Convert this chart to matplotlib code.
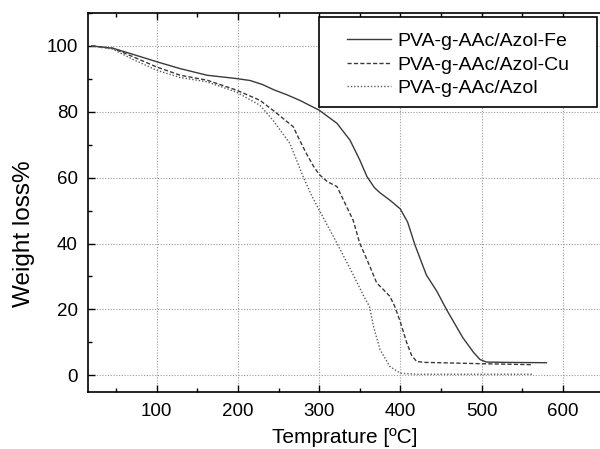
import matplotlib
matplotlib.use("Agg")
import matplotlib.pyplot as plt
from matplotlib.ticker import MultipleLocator
from matplotlib.patches import Rectangle

plt.rcParams['font.family'] = ['Liberation Sans', 'DejaVu Sans']

fe_T = [20, 46, 70, 100, 129, 162, 198, 215, 230, 245, 260, 276, 300, 322, 338, 350, 359, 368, 375, 388, 400, 409, 418, 432, 445, 457, 477, 490, 498, 506, 530, 580]
fe_W = [100, 99.3, 97.5, 95.2, 93.1, 91.1, 90.1, 89.5, 88.3, 86.6, 85.2, 83.5, 80.5, 76.5, 71.4, 65.4, 60.3, 57.0, 55.4, 53.0, 50.5, 46.5, 39.6, 30.5, 25.5, 19.9, 11.4, 7.0, 4.8, 4.0, 3.9, 3.8]

cu_T = [20, 46, 70, 100, 129, 162, 198, 227, 243, 268, 276, 285, 293, 300, 310, 322, 330, 342, 350, 360, 371, 380, 387, 393, 400, 408, 414, 420, 430, 449, 500, 563]
cu_W = [100, 99.3, 96.8, 93.6, 91.1, 89.6, 86.6, 83.5, 80.5, 75.5, 71.4, 67.0, 63.5, 61.0, 58.8, 57.3, 53.2, 47.0, 40.1, 34.5, 28.0, 25.8, 24.0, 21.0, 16.2, 9.8, 6.0, 4.2, 3.9, 3.8, 3.5, 3.2]

az_T = [20, 46, 70, 100, 129, 162, 198, 227, 243, 264, 276, 280, 290, 300, 320, 340, 355, 362, 367, 375, 387, 400, 420, 500, 563]
az_W = [100, 99.0, 96.0, 92.6, 90.4, 89.1, 86.0, 82.0, 77.5, 70.4, 63.0, 60.5, 55.0, 50.2, 41.0, 31.5, 24.0, 20.9, 14.8, 7.8, 2.7, 0.6, 0.3, 0.3, 0.3]

labels = ["PVA-g-AAc/Azol-Fe", "PVA-g-AAc/Azol-Cu", "PVA-g-AAc/Azol"]
x_ticks = [100, 200, 300, 400, 500, 600]
y_ticks = [0, 20, 40, 60, 80, 100]

W, H = 600, 449
fig = plt.figure(figsize=(6, 4.49), dpi=100)
left_px, right_px, top_px, bottom_px = 87.7, 603.3, 13.0, 391.7
ax = fig.add_axes([left_px / W, 1 - bottom_px / H, (right_px - left_px) / W, (bottom_px - top_px) / H])

ax.plot(fe_T, fe_W, color='#3a3a3a', lw=1.0, linestyle='-', label=labels[0])
ax.plot(cu_T, cu_W, color='#3a3a3a', lw=1.0, linestyle=(0, (3, 1.6)), label=labels[1])
ax.plot(az_T, az_W, color='#5a5a5a', lw=1.0, linestyle=(0, (1, 1.4)), label=labels[2])

ax.set_xlim(15, 650)
ax.set_ylim(-5, 110)
ax.set_xticks(x_ticks)
ax.set_yticks(y_ticks)
ax.xaxis.set_minor_locator(MultipleLocator(50))
ax.yaxis.set_minor_locator(MultipleLocator(10))
ax.tick_params(which='both', direction='in', top=True, right=False, labelsize=13.5, width=1.0)
ax.tick_params(which='major', length=5)
ax.tick_params(which='minor', length=3)
ax.tick_params(axis='x', pad=8)
ax.tick_params(axis='y', pad=7)
for s in ax.spines.values():
    s.set_linewidth(1.2)

ax.grid(True, which='major', color='#999999', linestyle=(0, (1, 1.5)), linewidth=0.8)
ax.set_axisbelow(True)

ax.set_xlabel("Temprature [ºC]", fontsize=15)
ax.xaxis.set_label_coords((345 - left_px) / (right_px - left_px), -(428 - bottom_px) / (bottom_px - top_px))
ax.set_ylabel("Weight loss%", fontsize=17.5)
ax.yaxis.set_label_coords((35 - left_px) / (right_px - left_px), (bottom_px - 234) / (bottom_px - top_px))

frame = Rectangle((319.3 / W, 1 - 106.7 / H), (597.3 - 319.3) / W, (106.7 - 17.3) / H,
                  transform=fig.transFigure, facecolor='white', edgecolor='black',
                  linewidth=1.2, zorder=4, clip_on=False)
ax.add_patch(frame)

leg = ax.legend(loc='upper left', bbox_to_anchor=(346.7 / W, 1 - 32.5 / H), bbox_transform=fig.transFigure,
                borderaxespad=0, borderpad=0, fontsize=14, frameon=False, handlelength=2.3,
                handletextpad=0.3, labelspacing=0.3)
leg.set_zorder(5)

fig.savefig("out.png", dpi=100)
